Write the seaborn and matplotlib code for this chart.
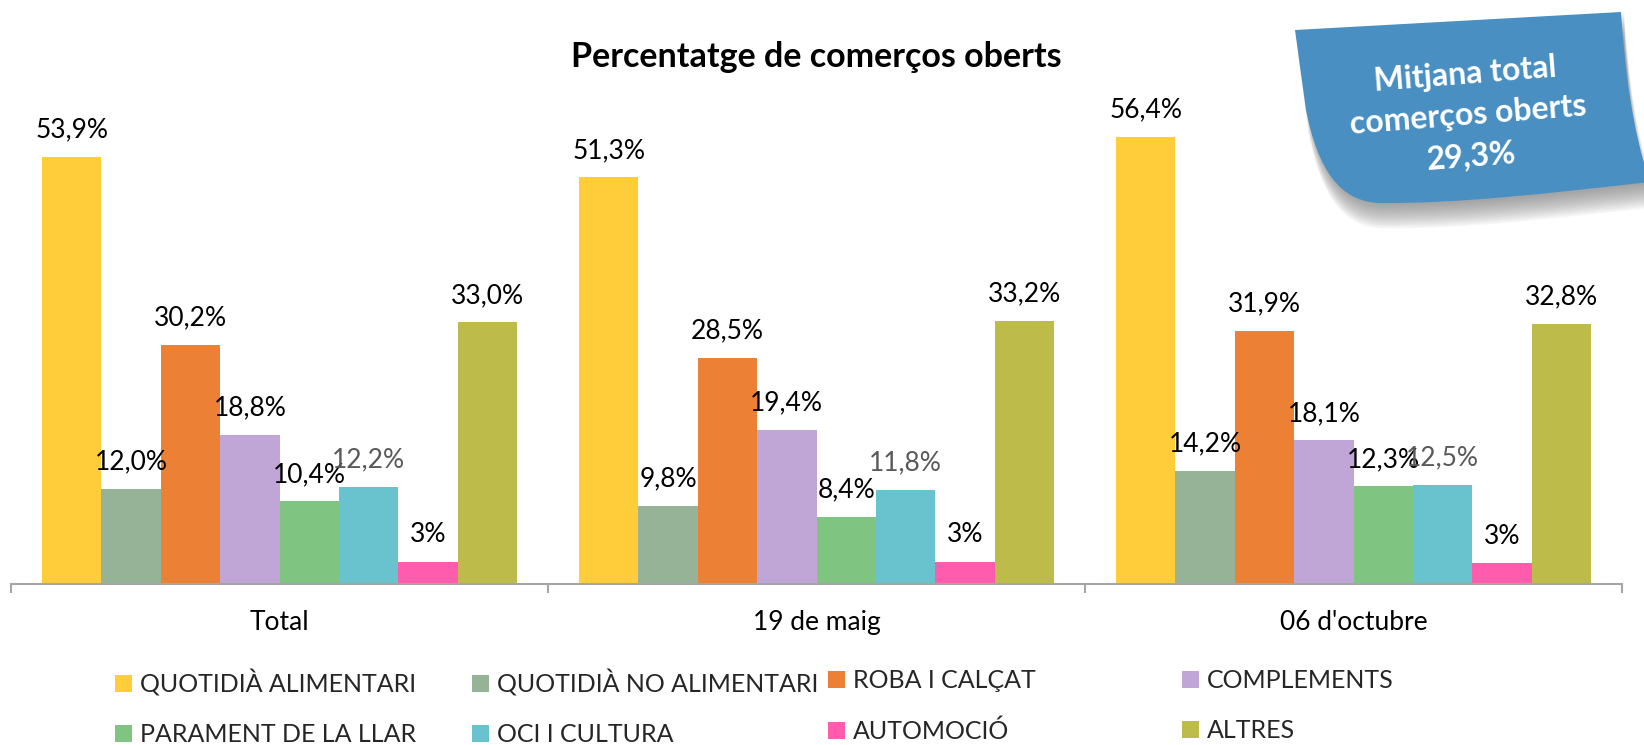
import numpy as np
import pandas as pd
import matplotlib
matplotlib.use("Agg")
import matplotlib.pyplot as plt
import seaborn as sns
from matplotlib.path import Path
from matplotlib.patches import PathPatch, Patch

# ---- data ----
groups = ["Total", "19 de maig", "06 d'octubre"]
categories = ["QUOTIDIÀ ALIMENTARI", "QUOTIDIÀ NO ALIMENTARI", "ROBA I CALÇAT",
              "COMPLEMENTS", "PARAMENT DE LA LLAR", "OCI I CULTURA",
              "AUTOMOCIÓ", "ALTRES"]
quotidia_alimentari = [53.9, 51.3, 56.4]
quotidia_no_alimentari = [12.0, 9.8, 14.2]
roba_calcat = [30.2, 28.5, 31.9]
complements = [18.8, 19.4, 18.1]
parament_llar = [10.4, 8.4, 12.3]
oci_cultura = [12.2, 11.8, 12.5]
automocio = [2.8, 2.8, 2.6]
altres = [33.0, 33.2, 32.8]
mitjana_total = 29.3

colors = ["#FFCC3A", "#96B397", "#EC8034", "#C0A6D7",
          "#80C482", "#68C3CF", "#FF5CAE", "#BDBC4A"]
label_colors = ["black", "black", "black", "black", "black", "#595959", "black", "black"]
label_decimals = [1, 1, 1, 1, 1, 1, 0, 1]

series = [quotidia_alimentari, quotidia_no_alimentari, roba_calcat, complements,
          parament_llar, oci_cultura, automocio, altres]
rows = []
for cat, vals in zip(categories, series):
    for g, v in zip(groups, vals):
        rows.append({"grup": g, "categoria": cat, "valor": v})
df = pd.DataFrame(rows)

# ---- style ----
sns.set_theme(style="white")
plt.rcParams["font.family"] = ["Lato", "DejaVu Sans"]

W, H = 1644, 745
fig = plt.figure(figsize=(W / 100, H / 100), dpi=100)

def fx(x):
    return x / W

def fy(y):
    return 1 - y / H

ax_left, ax_right = 11, 1622
ax_bottom_px = 583.7
ymax = 60
px_per_unit = 7.92
ax_height_px = ymax * px_per_unit
ax = fig.add_axes([fx(ax_left), fy(ax_bottom_px), (ax_right - ax_left) / W, ax_height_px / H])

sns.barplot(data=df, x="grup", y="valor", hue="categoria", order=groups,
            hue_order=categories, palette=colors, saturation=1, width=0.884,
            gap=0, linewidth=0, legend=False, errorbar=None, ax=ax)

ax.set_xlim(-0.5, len(groups) - 0.5)
ax.set_ylim(0, ymax)
ax.set_xlabel("")
ax.set_ylabel("")
ax.set_yticks([])
for s in ["top", "right", "left"]:
    ax.spines[s].set_visible(False)
ax.spines["bottom"].set_color("#A6A6A6")
ax.spines["bottom"].set_linewidth(1.5)

ax.set_xticks(np.arange(-0.5, len(groups)), labels=[""] * (len(groups) + 1))
ax.tick_params(axis="x", which="major", direction="out", length=6.5, width=1.5,
               color="#A6A6A6", bottom=True)
ax.set_xticks(np.arange(len(groups)), labels=groups, minor=True)
ax.tick_params(axis="x", which="minor", length=0, pad=19, labelsize=19,
               labelcolor="black")
for lbl in ax.get_xticklabels(minor=True):
    lbl.set_fontsize(19)

# data labels
for i, cont in enumerate(ax.containers):
    for bar in cont:
        h = bar.get_height()
        txt = f"{h:.{label_decimals[i]}f}".replace(".", ",") + "%"
        ax.annotate(txt, (bar.get_x() + bar.get_width() / 2, h),
                    xytext=(0, 14), textcoords="offset points",
                    ha="center", va="baseline", fontsize=19,
                    color=label_colors[i], annotation_clip=False)

# title
fig.text(fx(816.5), fy(57), "Percentatge de comerços oberts", ha="center",
         va="center", fontsize=24.5, fontweight="bold", color="black")

# legend: 4 columns of 2 rows, equal column widths
col_x = [115, 472, 828, 1182]
for c in range(4):
    idx = [c, c + 4]
    handles = [Patch(facecolor=colors[k], edgecolor="none") for k in idx]
    fig.legend(handles, [categories[k] for k in idx], loc="upper left",
               bbox_to_anchor=(fx(col_x[c]), fy(669)),
               bbox_transform=fig.transFigure, frameon=False,
               fontsize=18, handlelength=0.68, handleheight=0.68,
               handletextpad=0.3, labelspacing=1.1, borderpad=0,
               borderaxespad=0)

# callout box
verts_px = [(1295, 30), (1621, 12),
            (1625, 70), (1632, 130), (1650, 182),
            (1560, 192), (1460, 204), (1380, 203),
            (1340, 202), (1318, 170), (1306, 110),
            (1295, 30), (1295, 30)]
codes = [Path.MOVETO, Path.LINETO,
         Path.CURVE4, Path.CURVE4, Path.CURVE4,
         Path.CURVE4, Path.CURVE4, Path.CURVE4,
         Path.CURVE4, Path.CURVE4, Path.CURVE4,
         Path.LINETO, Path.CLOSEPOLY]

def make_path(dx=0, dy=0):
    return Path([(fx(x + dx), fy(y + dy)) for x, y in verts_px], codes)

for k in range(1, 16):
    fig.patches.append(PathPatch(make_path(3, 1.7 * k), transform=fig.transFigure,
                                 facecolor="#707070", edgecolor="none", alpha=0.06,
                                 zorder=1))
fig.patches.append(PathPatch(make_path(), transform=fig.transFigure,
                             facecolor="#4A8FC2", edgecolor="none", zorder=2))
mtxt = "Mitjana total\ncomerços oberts\n" + f"{mitjana_total:.1f}".replace(".", ",") + "%"
fig.text(fx(1468), fy(115), mtxt, rotation=4.5, rotation_mode="anchor",
         ha="center", va="center", multialignment="center", color="white",
         fontsize=23, fontweight="bold", linespacing=1.5, zorder=3)

fig.savefig("out.png", dpi=100)
